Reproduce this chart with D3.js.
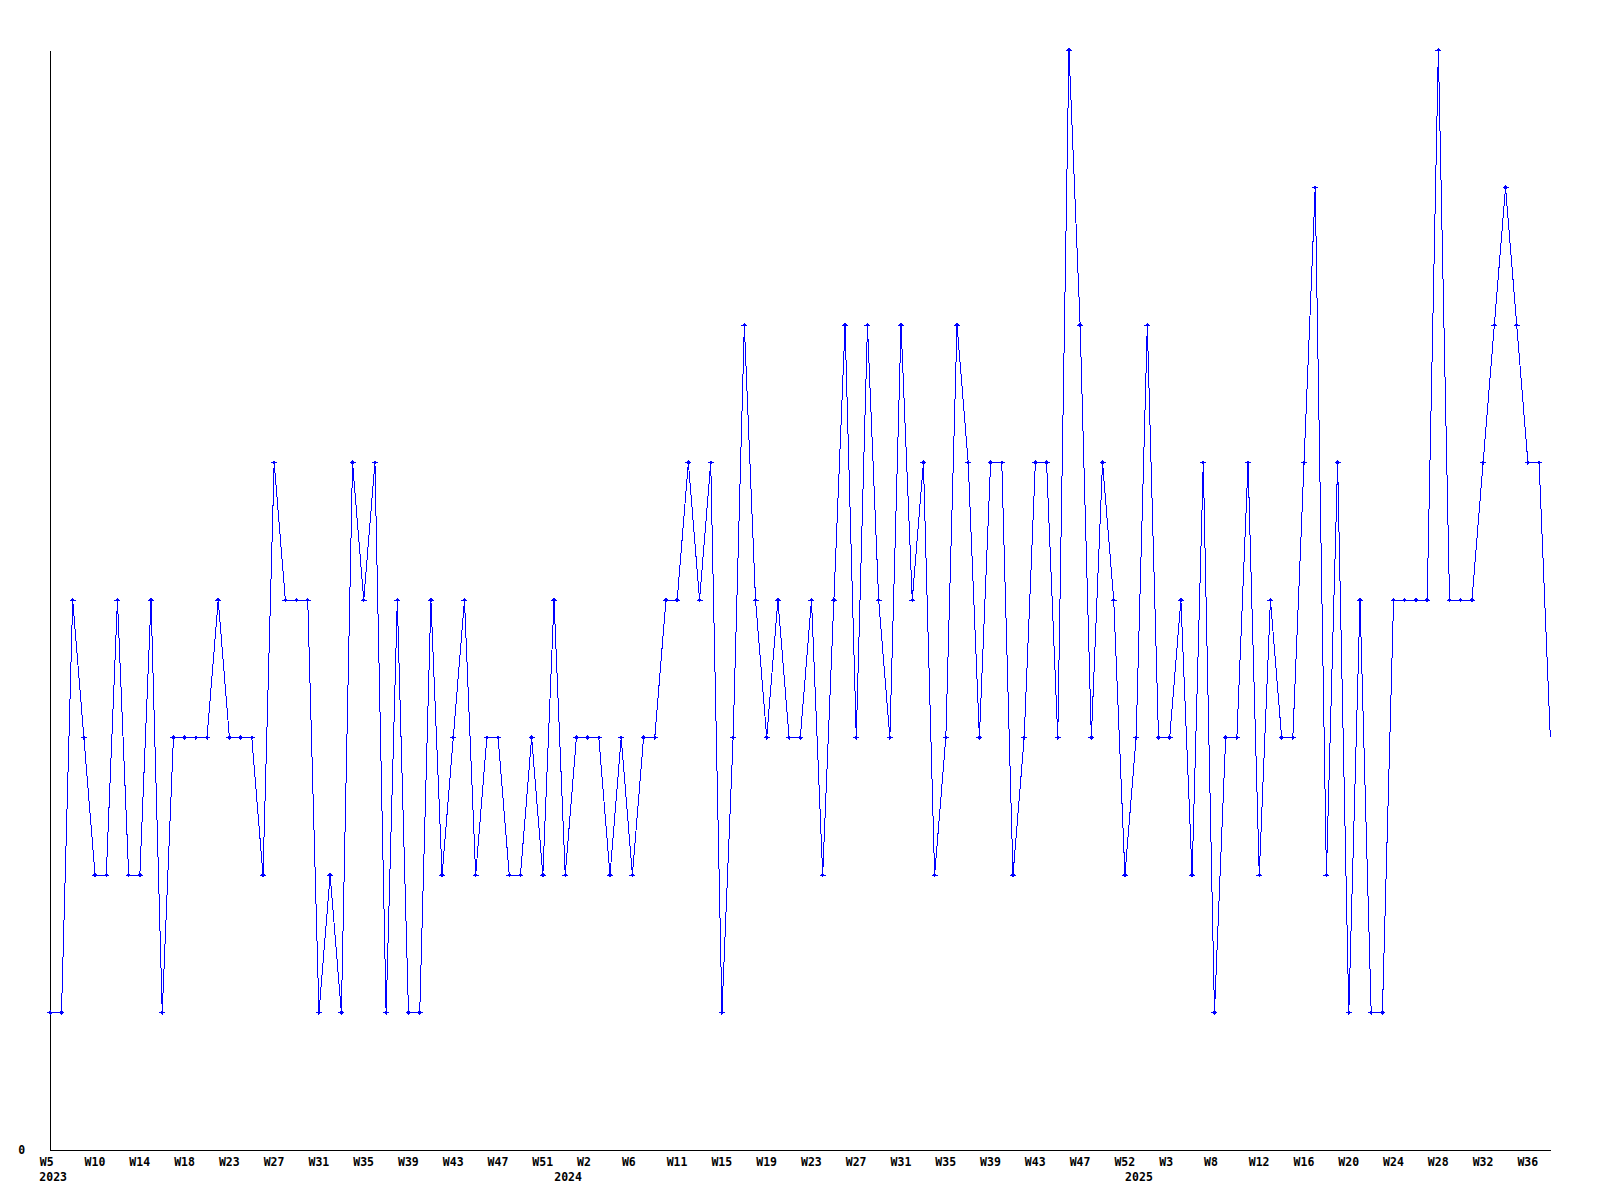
<!DOCTYPE html>
<html>
<head>
  <meta http-equiv="Content-Type" content="text/html; charset=UTF-8">
  <style>
    body { margin: 0; background: #fff; }
    .axis path, .axis line { stroke: #000; shape-rendering: crispEdges; }
    .axis text { font-family: "DejaVu Sans Mono", monospace; font-weight: bold; font-size: 11.5px; fill: #000; }
    .year { font-family: "DejaVu Sans Mono", monospace; font-weight: bold; font-size: 11.5px; fill: #000; }
    .line { fill: none; stroke: #0000ff; stroke-width: 1px; shape-rendering: crispEdges; }
    .dot { fill: #0000ff; stroke: #0000ff; stroke-width: 1px; shape-rendering: crispEdges; }
  </style>
</head>
<body>
  <svg width="1600" height="1200"></svg>
  <script src="https://cdn.jsdelivr.net/npm/d3@7/dist/d3.min.js"></script>
  <script>
    // weekly values, 2023 W5 onwards
    var values = [
      1, 1, 4, 3, 2, 2, 4, 2, 2, 4,
      1, 3, 3, 3, 3, 4, 3, 3, 3, 2,
      5, 4, 4, 4, 1, 2, 1, 5, 4, 5,
      1, 4, 1, 1, 4, 2, 3, 4, 2, 3,
      3, 2, 2, 3, 2, 4, 2, 3, 3, 3,
      2, 3, 2, 3, 3, 4, 4, 5, 4, 5,
      1, 3, 6, 4, 3, 4, 3, 3, 4, 2,
      4, 6, 3, 6, 4, 3, 6, 4, 5, 2,
      3, 6, 5, 3, 5, 5, 2, 3, 5, 5,
      3, 8, 6, 3, 5, 4, 2, 3, 6, 3,
      3, 4, 2, 5, 1, 3, 3, 5, 2, 4,
      3, 3, 5, 7, 2, 5, 1, 4, 1, 1,
      4, 4, 4, 4, 8, 4, 4, 4, 5, 6,
      7, 6, 5, 5, 3
    ];

    // one x label every 4th point
    var tickLabels = ["W5", "W10", "W14", "W18", "W23", "W27", "W31", "W35", "W39", "W43", "W47", "W51",
                      "W2", "W6", "W11", "W15", "W19", "W23", "W27", "W31", "W35", "W39", "W43", "W47",
                      "W52", "W3", "W8", "W12", "W16", "W20", "W24", "W28", "W32", "W36"];
    var tickStep = 4;

    var yearLabels = ["2023", "2024", "2025"];
    var yearPos = [0, 46, 97];

    var yTicks = [0];

    var svg = d3.select("svg"),
        margin = {top: 50, right: 49.7, bottom: 50, left: 50.3},
        width = 1600 - margin.left - margin.right,
        height = 1200 - margin.top - margin.bottom;

    var x = d3.scaleLinear().domain([0, values.length - 1]).range([0, width]),
        y = d3.scaleLinear().domain([0, 8]).range([height, 0]);

    var g = svg.append("g")
        .attr("transform", "translate(" + margin.left + "," + margin.top + ")");

    var tickPos = tickLabels.map(function(d, i) { return i * tickStep; });

    g.append("g")
        .attr("class", "axis axis--x")
        .attr("transform", "translate(0," + height + ")")
        .call(d3.axisBottom(x)
          .tickValues(tickPos)
          .tickSize(0)
          .tickPadding(8)
          .tickFormat(function(d, i) { return tickLabels[i]; }))
      .selectAll("text")
        .attr("text-anchor", "start")
        .attr("dx", -11);

    g.append("g")
        .attr("class", "axis axis--y")
        .call(d3.axisLeft(y)
          .tickValues(yTicks)
          .tickSize(0)
          .tickPadding(25)
          .tickFormat(d3.format("d")));

    g.selectAll(".year")
        .data(yearLabels)
        .enter().append("text")
        .attr("class", "year")
        .attr("x", function(d, i) { return x(yearPos[i]) - 11; })
        .attr("y", height + 31)
        .text(function(d) { return d; });

    var line = d3.line()
        .x(function(d, i) { return x(i); })
        .y(function(d) { return y(d); });

    g.append("path")
        .datum(values)
        .attr("class", "line")
        .attr("d", line);

    // small cross markers, last (partial) week has none
    g.selectAll(".dot")
        .data(values.slice(0, -1))
        .enter().append("path")
        .attr("class", "dot")
        .attr("transform", function(d, i) { return "translate(" + x(i) + "," + y(d) + ")"; })
        .attr("d", "M-3,0H3M0,-2V2M-1.5,0L0,-1.5L1.5,0L0,1.5Z");
  </script>
</body>
</html>
